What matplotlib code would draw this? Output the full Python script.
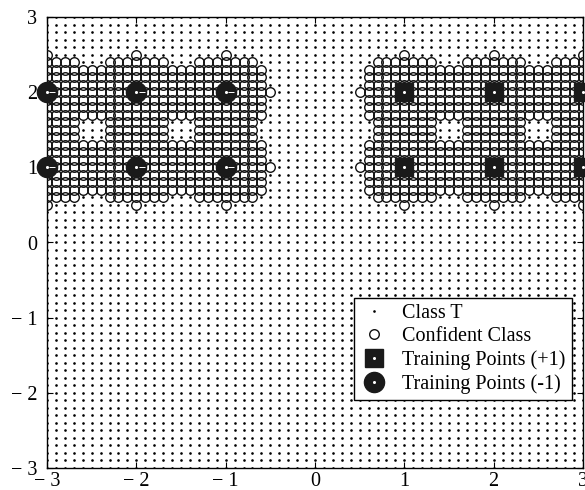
import numpy as np
import matplotlib
matplotlib.use("Agg")
import matplotlib.pyplot as plt
from matplotlib.legend_handler import HandlerTuple
from matplotlib.lines import Line2D

plt.rcParams['font.family'] = ['Liberation Serif', 'DejaVu Serif']

# Training points of each class
train_pos_x = [1, 2, 3, 1, 2, 3]
train_pos_y = [2, 2, 2, 1, 1, 1]
train_neg_x = [-3, -2, -1, -3, -2, -1]
train_neg_y = [2, 2, 2, 1, 1, 1]

# Confident-class masks, rows from y=2.5 down to y=0.5 in steps of 0.1
# left block spans x=-3.0..-0.5, right block spans x=0.5..3.0
left_rows_y_top = 2.5
left_x0 = -3.0
right_x0 = 0.5
left_mask = [
    "o.........o.........o.....",
    "oooo...ooooooo...ooooooo..",
    "ooooooooooooooooooooooooo.",
    "ooooooooooooooooooooooooo.",
    "ooooooooooooooooooooooooo.",
    "oooooooooooooooooooooooooo",
    "ooooooooooooooooooooooooo.",
    "ooooooooooooooooooooooooo.",
    "ooooooooooooooooooooooooo.",
    "oooo...ooooooo...ooooooo..",
    "oooo...ooooooo...ooooooo..",
    "oooo...ooooooo...ooooooo..",
    "ooooooooooooooooooooooooo.",
    "ooooooooooooooooooooooooo.",
    "ooooooooooooooooooooooooo.",
    "oooooooooooooooooooooooooo",
    "ooooooooooooooooooooooooo.",
    "ooooooooooooooooooooooooo.",
    "ooooooooooooooooooooooooo.",
    "oooo...ooooooo...ooooooo..",
    "o.........o.........o.....",
]
right_mask = [
    ".....o.........o.........o",
    "..ooooooo...ooooooo...oooo",
    ".ooooooooooooooooooooooooo",
    ".ooooooooooooooooooooooooo",
    ".ooooooooooooooooooooooooo",
    "oooooooooooooooooooooooooo",
    ".ooooooooooooooooooooooooo",
    ".ooooooooooooooooooooooooo",
    ".ooooooooooooooooooooooooo",
    "..ooooooo...ooooooo...oooo",
    "..ooooooo...ooooooo...oooo",
    "..ooooooo...ooooooo...oooo",
    ".ooooooooooooooooooooooooo",
    ".ooooooooooooooooooooooooo",
    ".ooooooooooooooooooooooooo",
    "oooooooooooooooooooooooooo",
    ".ooooooooooooooooooooooooo",
    ".ooooooooooooooooooooooooo",
    ".ooooooooooooooooooooooooo",
    "..ooooooo...ooooooo...oooo",
    ".....o.........o.........o",
]

tick_vals = [-3, -2, -1, 0, 1, 2, 3]
tick_labels = ["\u2212 3", "\u2212 2", "\u2212 1", "0", "1", "2", "3"]

# Grid of evaluated points in tenths
grid_step = 0.1
grid_n = np.arange(-30, 31)

confident = set()
for mask, x0 in ((left_mask, left_x0), (right_mask, right_x0)):
    for r, row in enumerate(mask):
        yk = int(round((left_rows_y_top - r * grid_step) * 10))
        for c, ch in enumerate(row):
            if ch == "o":
                xk = int(round((x0 + c * grid_step) * 10))
                confident.add((xk, yk))

dot_x, dot_y = [], []
for i in grid_n:
    for j in grid_n:
        if (i, j) not in confident:
            dot_x.append(i / 10)
            dot_y.append(j / 10)
conf_x = [k[0] / 10 for k in sorted(confident)]
conf_y = [k[1] / 10 for k in sorted(confident)]

fig = plt.figure(figsize=(5.85, 4.9), dpi=100)
ax = fig.add_axes([47 / 585, 22 / 490, 536 / 585, 451 / 490])

ax.plot(dot_x, dot_y, ls="none", marker="o", ms=1.9, mfc="black", mec="none", zorder=2)
ax.plot(conf_x, conf_y, ls="none", marker="o", ms=6.9, mfc="none", mec="#111111",
        mew=1.0, zorder=3)

ax.plot(train_pos_x, train_pos_y, ls="none", marker="s", ms=12.5, mfc="#1a1a1a",
        mec="#1a1a1a", zorder=5, clip_on=False)
ax.plot(train_pos_x, train_pos_y, ls="none", marker="o", ms=2.2, mfc="white",
        mec="none", zorder=6, clip_on=False)
ax.plot(train_neg_x, train_neg_y, ls="none", marker="o", ms=14.5, mfc="#1a1a1a",
        mec="#1a1a1a", zorder=5, clip_on=False)
ax.plot(train_neg_x, train_neg_y, ls="none", marker="o", ms=2.2, mfc="white",
        mec="none", zorder=6, clip_on=False)
ax.plot([x + 0.06 for x in train_neg_x], train_neg_y, ls="none", marker="_", ms=4,
        mew=0.7, color="white", zorder=6, clip_on=False)

ax.set_xlim(-3, 3)
ax.set_ylim(-3, 3)
ax.set_xticks(tick_vals)
ax.set_xticklabels(tick_labels)
ax.set_yticks(tick_vals)
ax.set_yticklabels(tick_labels)
ax.tick_params(direction="in", length=4, width=0.8, top=True, right=True,
               labelsize=14.5, colors="black")
ax.tick_params(axis="x", pad=3)
ax.tick_params(axis="y", pad=7)
for s in ax.spines.values():
    s.set_linewidth(1.0)

h_dot = Line2D([], [], ls="none", marker="o", ms=1.9, mfc="black", mec="none")
h_conf = Line2D([], [], ls="none", marker="o", ms=6.9, mfc="none", mec="#111111", mew=1.0)
h_sq = Line2D([], [], ls="none", marker="s", ms=12.5, mfc="#1a1a1a", mec="#1a1a1a")
h_ci = Line2D([], [], ls="none", marker="o", ms=14.5, mfc="#1a1a1a", mec="#1a1a1a")
h_wd = Line2D([], [], ls="none", marker="o", ms=2.2, mfc="white", mec="none")

leg = ax.legend([h_dot, h_conf, (h_sq, h_wd), (h_ci, h_wd)],
                ["Class T", "Confident Class", "Training Points (+1)", "Training Points (-1)"],
                handler_map={tuple: HandlerTuple(ndivide=1)},
                loc="lower right", bbox_to_anchor=(0.979, 0.151), fontsize=14.5,
                frameon=True, fancybox=False, shadow=False, framealpha=1,
                edgecolor="black", borderpad=0.3, labelspacing=0.2,
                handlelength=1.4, handletextpad=0.7, borderaxespad=0)
leg.get_frame().set_linewidth(1.0)
leg.set_zorder(10)

fig.savefig("out.png", dpi=100)
